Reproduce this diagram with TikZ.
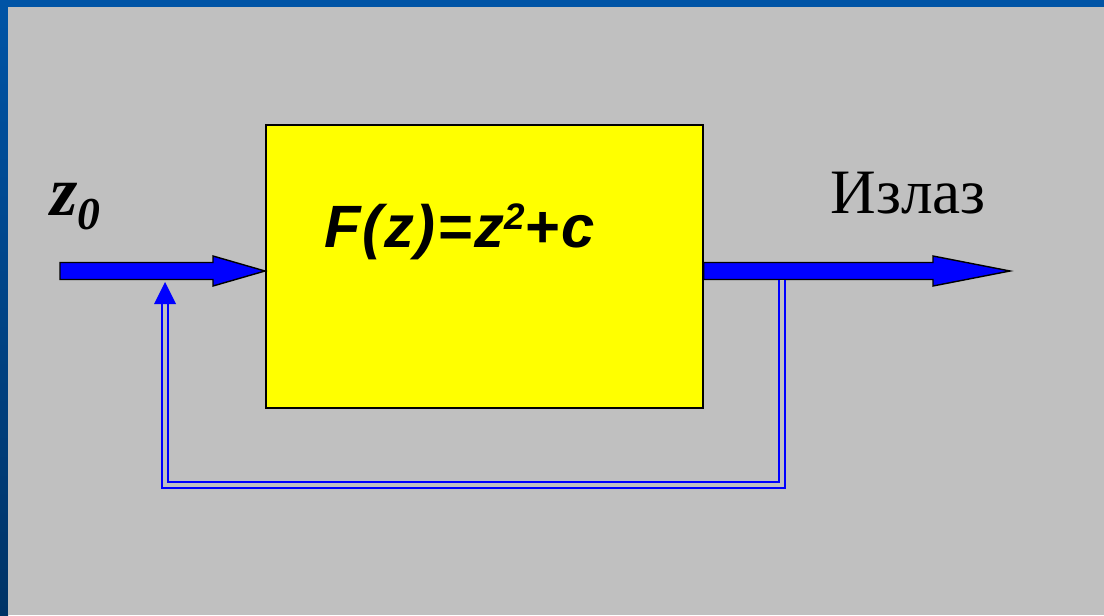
\documentclass[tikz,border=0pt]{standalone}
\usepackage{fontspec}
\setmainfont{Liberation Serif}
\newfontfamily\formulafont[LetterSpace=3]{Liberation Sans}
\usetikzlibrary{calc}

\definecolor{slideblue}{RGB}{0,84,166}
\definecolor{slidedark}{RGB}{0,51,102}
\definecolor{panelgray}{RGB}{192,192,192}
\definecolor{boxyellow}{RGB}{255,255,0}

\begin{document}
\begin{tikzpicture}[x=0.02cm, y=-0.02cm,
    fatarrow/.style={fill=blue, draw=black, line width=0.8pt, line join=miter},
    feedback/.style={draw=blue, double=panelgray, line width=1.3pt, double distance=1.8pt},
    blockbox/.style={draw=black, fill=boxyellow, line width=1pt, inner sep=0pt}]
    % Background
    \fill[slideblue] (0,0) rectangle (1104,615);
    \shade[top color=slideblue, bottom color=slidedark] (0,0) rectangle (8,615);
    \fill[panelgray] (8,7) rectangle (1104,615);

    % Block
    \node[blockbox, anchor=north west, minimum width=8.74cm, minimum height=5.66cm] (box) at (265,124) {};
    \node[anchor=base west, inner sep=0pt, font=\formulafont\bfseries\itshape\fontsize{34}{34}\selectfont] (func) at (324,247)
        {F(z)=z\raisebox{10pt}{\fontsize{21}{21}\selectfont 2}+c};

    % Labels
    \node[anchor=base west, inner sep=0pt, font=\bfseries\itshape\fontsize{40}{40}\selectfont] (z0) at (50,215)
        {z\raisebox{-8pt}{\fontsize{26}{26}\selectfont 0}};
    \node[anchor=base, font=\fontsize{36}{36}\selectfont] (outlabel) at (908,213) {Излаз};

    % Input and output arrows
    \coordinate (in) at (60,271);
    \coordinate (intip) at (box.west |- in);
    \coordinate (out) at (1010,271);
    \coordinate (outstart) at (box.east |- out);
    \draw[fatarrow] ($(in)+(0,-8.5)$) -- ($(intip)+(-52,-8.5)$) -- ++(0,-6.5) -- (intip)
        -- ++(-52,15) -- ++(0,-6.5) -- ($(in)+(0,8.5)$) -- cycle;
    \draw[fatarrow] ($(outstart)+(0,-8.5)$) -- ($(out)+(-77,-8.5)$) -- ++(0,-6.5) -- (out)
        -- ++(-77,15) -- ++(0,-6.5) -- ($(outstart)+(0,8.5)$) -- cycle;

    % Feedback loop
    \coordinate (tap) at (782,280);
    \coordinate (fbin) at (165,282);
    \coordinate (fbhead) at (165,304);
    \draw[feedback] (tap) -- (tap |- 0,485) -- (fbin |- 0,485) -- (fbhead);
    \fill[blue] (fbin) -- ($(fbhead)+(-11,0)$) -- ($(fbhead)+(11,0)$) -- cycle;
\end{tikzpicture}
\end{document}
